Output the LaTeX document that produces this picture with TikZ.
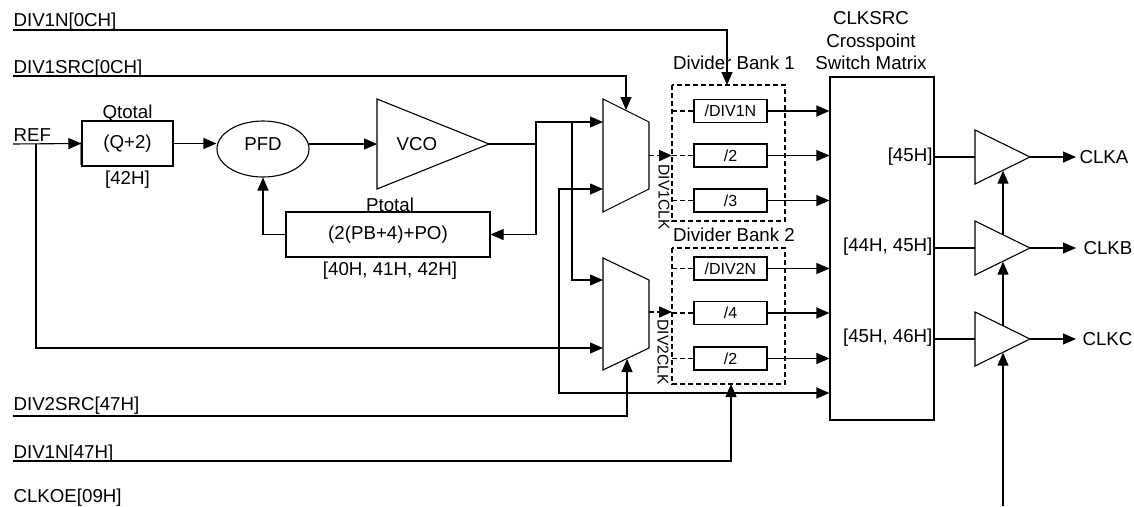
\documentclass[tikz,border=0pt]{standalone}
\usepackage{fontspec}
\setmainfont{Liberation Sans}
\usetikzlibrary{arrows.meta,shapes.geometric}
\begin{document}
\begin{tikzpicture}[x=1pt,y=-1pt, line width=1.1pt,
  lbl/.style={font=\fontsize{18.7}{20}\selectfont, inner sep=0pt},
  smlbl/.style={font=\fontsize{15.6}{17}\selectfont, inner sep=0pt},
  blk/.style={draw, inner sep=0pt, font=\fontsize{18.7}{20}\selectfont},
  divbox/.style={draw, minimum width=73pt, minimum height=23pt, inner sep=0pt, font=\fontsize{16}{18}\selectfont},
  arr/.style={-{Triangle[length=13pt 0 0,width=11pt 0 0]}},
  dsh/.style={dash pattern=on 5pt off 3pt, line width=1.6pt},
]
\useasboundingbox (0,0) rectangle (1134,506);

% ---- left labels and control lines
\node[lbl, anchor=base west] (t1) at (13,27) {DIV1N[0CH]};
\node[lbl, anchor=base west] (t2) at (13,73) {DIV1SRC[0CH]};
\node[lbl, anchor=base west] (t3) at (13,141) {REF};
\node[lbl, anchor=base west] (t4) at (13,410) {DIV2SRC[47H]};
\node[lbl, anchor=base west] (t5) at (13,458) {DIV1N[47H]};
\node[lbl, anchor=base west] (t6) at (13,502) {CLKOE[09H]};

% ---- PLL blocks
\node[blk, minimum width=91pt, minimum height=45pt] (Q) at (127.5,143.5) {(Q+2)};
\node[lbl, anchor=base] (qt) at (127.5,118) {Qtotal};
\node[lbl, anchor=base] (qr) at (127.5,184) {[42H]};
\draw[gray] (80.6,142) -- (80.6,165);

\node[draw, ellipse, minimum width=92pt, minimum height=56pt, inner sep=0pt] (PFD) at (263,149) {};
\node[lbl] (pfdt) at (263,144) {PFD};

\draw (377,99) -- (489,144) -- (377,189) -- cycle;
\coordinate (vcoout) at (489,144);
\node[lbl] (vcot) at (417,144) {VCO};

\node[blk, minimum width=204pt, minimum height=45pt] (P) at (388,234.5) {(2(PB+4)+PO)};
\node[lbl, anchor=base] (pt) at (390,211) {Ptotal};
\node[lbl, anchor=base] (pr) at (390,275) {[40H, 41H, 42H]};

% ---- muxes
\draw (603,99) -- (649,122) -- (649,189) -- (603,212) -- cycle;
\draw (603,258) -- (649,280) -- (649,348) -- (603,370) -- cycle;
\coordinate (m1a) at (603,122);
\coordinate (m1b) at (603,189);
\coordinate (m2a) at (603,280);
\coordinate (m2b) at (603,348);

% ---- divider banks
\draw[dsh] (672,85) rectangle (785,221);
\draw[dsh] (672,248) rectangle (785,384);
\node[lbl, anchor=base] (db1) at (734,69) {Divider Bank 1};
\node[lbl, anchor=base] (db2) at (734,241) {Divider Bank 2};

\node[divbox] (d1a) at (730.5,111) {/DIV1N};
\node[divbox] (d1b) at (730.5,155.5) {/2};
\node[divbox] (d1c) at (730.5,200.5) {/3};
\node[divbox] (d2a) at (730.5,268.5) {/DIV2N};
\node[divbox] (d2b) at (730.5,313) {/4};
\node[divbox] (d2c) at (730.5,358.5) {/2};

\foreach \n in {d1a,d1b,d1c,d2a,d2b,d2c}
  \draw[dsh] (\n.west) -- ++(-22,0);

% ---- crosspoint
\node[draw, minimum width=104pt, minimum height=343pt, inner sep=0pt] (X) at (882,248.5) {};
\node[lbl, anchor=base] (xs1) at (871,24.5) {CLKSRC};
\node[lbl, anchor=base] (xs2) at (871,47) {Crosspoint};
\node[lbl, anchor=base] (xs3) at (871,69) {Switch Matrix};
\node[lbl, anchor=base east] (k1) at (933,161) {[45H]};
\node[lbl, anchor=base east] (k2) at (933,251) {[44H, 45H]};
\node[lbl, anchor=base east] (k3) at (933,342) {[45H, 46H]};

\foreach \n in {d1a,d1b,d1c,d2a,d2b,d2c}
  \draw[arr] (\n.east) -- (\n.east -| X.west);

% ---- rotated clock labels
\node[smlbl, rotate=-90] (c1) at (664,197) {DIV1CLK};
\node[smlbl, rotate=-90] (c2) at (663,352) {DIV2CLK};

% ---- output buffers
\draw (975,130) -- (1030,157) -- (975,184) -- cycle;
\draw (975,221) -- (1030,248) -- (975,275) -- cycle;
\draw (975,312) -- (1030,339) -- (975,366) -- cycle;
\coordinate (ba) at (1030,157);
\coordinate (bb) at (1030,248);
\coordinate (bc) at (1030,339);
\node[lbl, anchor=west] (oa) at (1079,157) {CLKA};
\node[lbl, anchor=west] (ob) at (1083,248) {CLKB};
\node[lbl, anchor=west] (oc) at (1082,339) {CLKC};
\draw[arr] (ba) -- ([xshift=-3pt]oa.west);
\draw[arr] (bb) -- ([xshift=-7pt]ob.west);
\draw[arr] (bc) -- ([xshift=-6pt]oc.west);
\draw (934,157) -- (975,157);
\draw (934,248) -- (975,248);
\draw (934,339) -- (975,339);
\draw[arr] (1003,234.5) -- (1003,170.7);
\draw[arr] (1003,325.5) -- (1003,261.7);
\draw[arr] (1003,506) -- (1003,352.7);

% ---- connections
\draw[arr] (t1.base west |- 0,30) -- (727,30) -- (727,85);
\draw[arr] (t2.base west |- 0,76) -- (626,76) -- (626,110);
\draw[arr] (13,144) -- (Q.west);
\draw[arr] (36,144) |- (m2b);
\draw[arr] (Q.east) -- (Q.east -| PFD.west);
\draw[arr] (309,144) -- (377,144);
\draw (vcoout) -- (536,144);
\draw[arr] (536,144) |- (m1a);
\draw[arr] (536,144) |- (P.east);
\draw[arr] (P.west) -| (PFD.south);
\draw[arr] (572,122) |- (m2a);
\draw[arr] (559,300) |- (m1b);
\draw[arr] (559,300) |- (X.west |- 0,393);
\draw[arr] (t4.base west |- 0,416) -| (627,359);
\draw[arr] (t5.base west |- 0,461) -| (731,384);
\draw[dsh, arr] (649,155.5) -- (672,155.5);
\draw[dsh, arr] (649,312) -- (672,312);
\end{tikzpicture}
\end{document}
